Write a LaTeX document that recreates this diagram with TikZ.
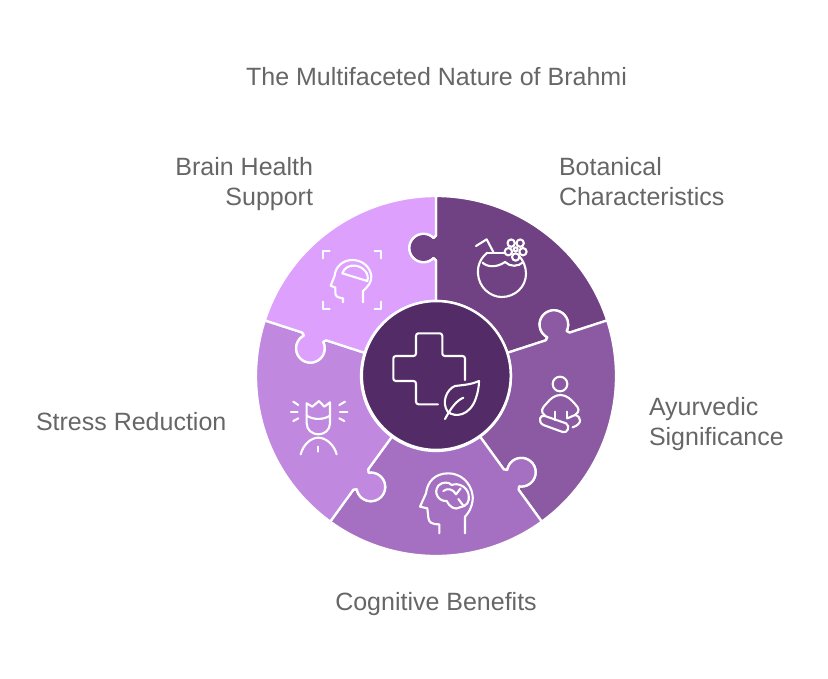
\documentclass[tikz,border=0pt]{standalone}
\usepackage{fontspec}
\setmainfont{Liberation Sans}
\definecolor{cBot}{HTML}{704283}
\definecolor{cAyu}{HTML}{8C5AA3}
\definecolor{cCog}{HTML}{A670C2}
\definecolor{cStr}{HTML}{C188E0}
\definecolor{cBra}{HTML}{DEA0FD}
\definecolor{cHub}{HTML}{532B66}
\definecolor{cTxt}{HTML}{666666}
\tikzset{
  piece/.style={draw=white,line width=2.3pt,line join=round},
  hub/.style={draw=white,line width=2.5pt,fill=cHub},
  icon/.style={draw=white,line width=2.1pt,line cap=round,line join=round},
  lbl/.style={text=cTxt,font=\fontsize{25}{30}\selectfont,inner sep=0pt,outer sep=0pt},
  zoomed/.style={x=0.33333pt,y=-0.33333pt}
}
\newcommand{\puzzlepiece}[2]{%
  \path[piece,fill=#2,shift={(436,-376)},rotate=#1]
    (0,75) -- (0,115.5) -- (-2.4,117.9)
    arc[start angle=315,end angle=45,radius=14.3] -- (0,140.5) -- (0,180)
    arc[start angle=90,end angle=18,radius=180]
    {[rotate=-72] -- (0,140.5) -- (-2.4,138.1)
    arc[start angle=45,end angle=315,radius=14.3] -- (0,115.5) -- (0,75)}
    arc[start angle=18,end angle=90,radius=75] -- cycle;
}
\begin{document}
\begin{tikzpicture}[x=1pt,y=1pt]
\useasboundingbox (0,-678) rectangle (828,0);
\puzzlepiece{0}{cBot}
\puzzlepiece{-72}{cAyu}
\puzzlepiece{-144}{cCog}
\puzzlepiece{-216}{cStr}
\puzzlepiece{-288}{cBra}
\node[hub,circle,minimum size=149pt,inner sep=0pt] (centre) at (436.3,-375.5) {};
% cross and leaf
\draw[icon,rounded corners=2.5pt] (465,-380) -- (465,-356) -- (442.3,-356) -- (442.3,-333.3) -- (416,-333.3) -- (416,-356) -- (393.3,-356) -- (393.3,-381) -- (416,-381) -- (416,-404.3) -- (438,-404.3);
\draw[icon] (479,-381) .. controls (470,-385) and (462,-385) .. (455,-386)
  .. controls (447,-389) and (441,-402) .. (447.7,-411.7)
  .. controls (455,-418) and (470,-416) .. (476,-398)
  .. controls (478,-392) and (479,-386) .. cycle;
\draw[icon] (445,-419) .. controls (451,-408) and (456,-401) .. (463.3,-397.7);
% botanical icon
\begin{scope}[shift={(470,-232)},zoomed]
\draw[icon] (18,42) -- (50,22) -- (70,60);
\draw[icon] (52,62) -- (108,62);
\draw[icon] (52,62) .. controls (32,78) and (22,100) .. (24,125)
  .. controls (26,165) and (60,195) .. (95,195)
  .. controls (135,195) and (168,165) .. (168,125)
  .. controls (168,105) and (160,85) .. (147,72);
\draw[icon] (38,92) .. controls (50,105) and (80,108) .. (105,90)
  .. controls (120,105) and (145,105) .. (160,90);
\foreach \a in {90,162,234,306,18}
  \draw[icon,fill=cBot] (137,52) ++(\a:23) circle[radius=11];
\draw[icon,fill=cBot] (137,52) circle[radius=6];
\end{scope}
% meditation icon
\begin{scope}[shift={(530,-370)},zoomed]
\draw[icon] (90,42) circle[radius=22];
\draw[icon] (45,137) .. controls (30,125) and (35,115) .. (50,100)
  .. controls (62,85) and (75,75) .. (92,75)
  .. controls (110,75) and (125,90) .. (135,102)
  .. controls (148,115) and (150,125) .. (135,135) -- (112,145);
\draw[icon] (75,125) -- (75,150);
\draw[icon] (112,125) -- (112,145);
\draw[icon] (45,138) -- (108,160) .. controls (122,168) and (112,192) .. (98,186)
  -- (40,165) .. controls (22,155) and (30,132) .. (45,138);
\draw[icon] (135,135) .. controls (155,140) and (158,162) .. (128,172);
\end{scope}
% brain icon
\begin{scope}[shift={(410,-465)},zoomed]
\draw[icon] (165,205) -- (165,155) .. controls (180,140) and (190,115) .. (188,92)
  .. controls (182,50) and (150,25) .. (115,25)
  .. controls (75,25) and (52,50) .. (48,85) -- (30,125) -- (52,130) -- (55,158)
  .. controls (56,172) and (65,178) .. (88,178) -- (88,205);
\draw[icon] (85,62) .. controls (95,50) and (118,50) .. (125,60)
  .. controls (145,52) and (172,65) .. (176,90)
  .. controls (180,110) and (170,124) .. (150,127)
  .. controls (135,137) and (118,125) .. (110,108)
  .. controls (88,110) and (68,85) .. (85,62);
\draw[icon] (100,78) .. controls (112,68) and (130,72) .. (138,88);
\draw[icon] (152,70) -- (138,88);
\draw[icon] (145,102) -- (160,122);
\end{scope}
% stress icon
\begin{scope}[shift={(285,-395)},zoomed]
\draw[icon] (65,85) -- (65,25) -- (82,35) -- (102,18) -- (118,35) -- (135,22) -- (135,85)
  .. controls (135,105) and (118,118) .. (100,118)
  .. controls (82,118) and (65,105) .. (65,85);
\draw[icon] (65,62) .. controls (85,75) and (115,75) .. (135,62);
\draw[icon] (47,178) .. controls (55,148) and (78,128) .. (100,128)
  .. controls (122,128) and (147,148) .. (155,178);
\draw[icon] (100,155) -- (100,170);
\draw[icon] (25,20) -- (40,30);
\draw[icon] (18,52) -- (38,52);
\draw[icon] (25,78) -- (40,70);
\draw[icon] (180,20) -- (163,30);
\draw[icon] (187,52) -- (165,52);
\draw[icon] (178,78) -- (163,70);
\end{scope}
% brain health icon
\begin{scope}[shift={(318,-245)},zoomed]
\draw[icon] (14,40) -- (14,18) -- (35,18);
\draw[icon] (170,18) -- (190,18) -- (190,40);
\draw[icon] (14,170) -- (14,192) -- (35,192);
\draw[icon] (170,192) -- (190,192) -- (190,170);
\draw[icon] (135,172) -- (135,138) .. controls (150,125) and (162,110) .. (160,92)
  .. controls (155,62) and (130,45) .. (103,45)
  .. controls (75,45) and (52,65) .. (50,92) -- (38,122) -- (52,128) -- (52,145)
  .. controls (52,155) and (62,158) .. (75,160) -- (75,172);
\draw[icon] (73,85) .. controls (78,68) and (95,60) .. (112,62)
  .. controls (135,65) and (155,85) .. (148,108) -- cycle;
\end{scope}
% labels
\node[lbl,anchor=base] (title) at (436.5,-85) {The Multifaceted Nature of Brahmi};
\node[lbl,anchor=base east] (bh1) at (313,-175) {Brain Health};
\node[lbl,anchor=base east] (bh2) at (313,-205) {Support};
\node[lbl,anchor=base west] (bc1) at (559,-175) {Botanical};
\node[lbl,anchor=base west] (bc2) at (559,-205) {Characteristics};
\node[lbl,anchor=base west] (ay1) at (649,-415) {Ayurvedic};
\node[lbl,anchor=base west] (ay2) at (649,-445) {Significance};
\node[lbl,anchor=base west] (st) at (36,-430) {Stress Reduction};
\node[lbl,anchor=base] (cg) at (436,-610) {Cognitive Benefits};
\end{tikzpicture}
\end{document}
